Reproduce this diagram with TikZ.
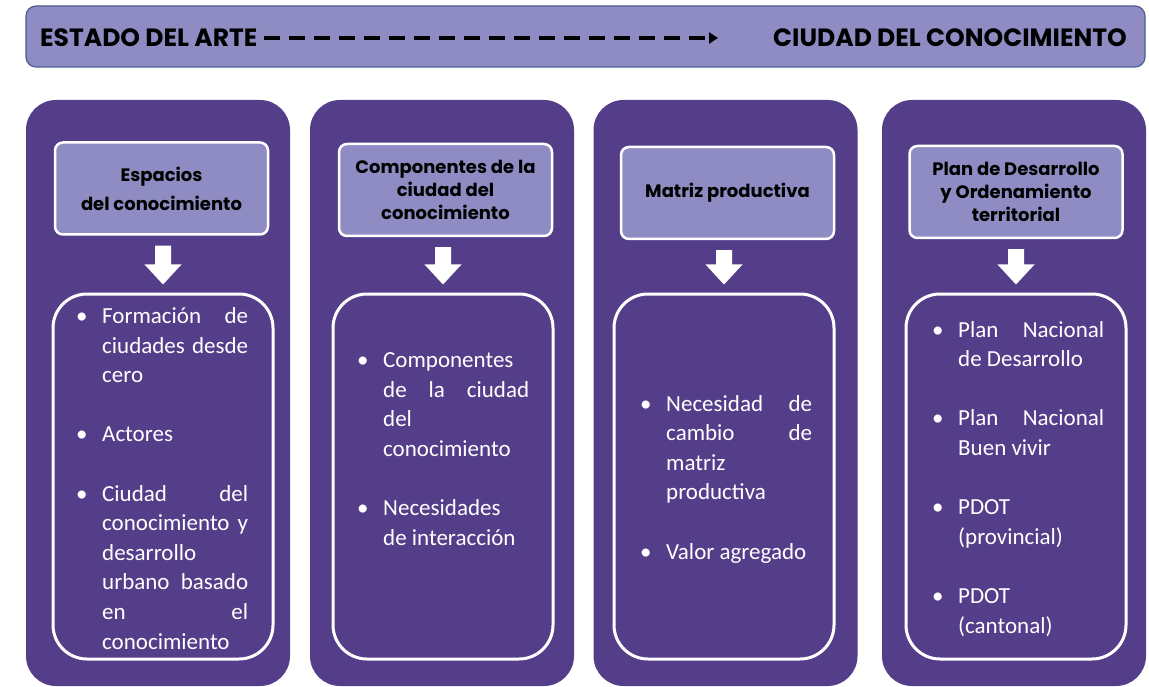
\documentclass[tikz,border=0pt]{standalone}
\usepackage{fontspec}
\setmainfont{Carlito}
\newfontfamily\headfont{Poppins}
\usetikzlibrary{calc,arrows.meta}

\definecolor{lilac}{HTML}{8F8CC3}
\definecolor{plum}{HTML}{543E8A}
\definecolor{rimblue}{HTML}{4A5F8F}

\newcommand\bullbox{\makebox[26pt][l]{•}}
\newcommand\hangbox{\hspace*{26pt}}
\newcommand\fillline[1]{\makebox[146pt][s]{#1}}

\tikzset{
  banner/.style={draw=rimblue, line width=1.2pt, fill=lilac, rounded corners=10pt,
    minimum width=1119pt, minimum height=61pt},
  bannertext/.style={font=\headfont\bfseries\fontsize{25}{28}\selectfont, inner sep=0pt},
  column/.style={fill=plum, rounded corners=30pt, minimum width=264pt, minimum height=586pt},
  titlebox/.style={draw=white, line width=2.5pt, fill=lilac, rounded corners=8pt,
    minimum width=213pt, minimum height=92pt, align=center,
    font=\headfont\bfseries\fontsize{18}{23}\selectfont},
  listbox/.style={draw=white, line width=3pt, rounded corners=34pt,
    minimum width=220pt, minimum height=365pt},
  listtext/.style={text=white, align=left, inner sep=0pt, anchor=base west,
    font=\fontsize{23}{29.6}\selectfont},
}

\begin{document}
\begin{tikzpicture}[x=1pt, y=-1pt]
  \useasboundingbox (0,0) rectangle (1149,687);

  \node[banner] (head) at (585.5,36.5) {};
  \node[bannertext, anchor=west] (from) at (40,38) {ESTADO DEL ARTE};
  \node[bannertext, anchor=east] (to) at (1127,38) {CIUDAD DEL CONOCIMIENTO};
  \coordinate (arrowend) at (718,38);
  \draw[line width=3.5pt, dash pattern=on 16pt off 9pt, -{Triangle[length=9pt, width=11pt]}]
    ($(from.east)+(6,0)$) -- (arrowend);

  \foreach \i/\cx in {1/158, 2/442, 3/725.5, 4/1014}
    \node[column] (col\i) at (\cx,393) {};

  \foreach \i/\cx/\cy/\txt in {1/161.5/188.5/{Espacios\\[6pt]del conocimiento},
      2/445.5/190/{Componentes de la\\ciudad del\\conocimiento},
      3/727.5/193/{Matriz productiva},
      4/1016/192/{Plan de Desarrollo\\y Ordenamiento\\territorial}}
    \node[titlebox] (tit\i) at (\cx,\cy) {\txt};

  \foreach \i/\cx in {1/163, 2/443, 3/724, 4/1016}
    \node[listbox] (box\i) at (\cx,476.5) {};

  \foreach \i in {1,...,4} {
    \coordinate (s\i) at ($(tit\i.south -| box\i.north)+(0,10)$);
    \coordinate (h\i) at ($(box\i.north)+(0,-28)$);
    \coordinate (t\i) at ($(box\i.north)+(0,-8)$);
    \fill[white] ($(s\i)+(-8,0)$) -- ($(s\i)+(8,0)$) -- ($(h\i)+(8,0)$) -- ($(h\i)+(18.5,0)$)
      -- (t\i) -- ($(h\i)+(-18.5,0)$) -- ($(h\i)+(-8,0)$) -- cycle;
  }

  \node[listtext] (list1) at (76,649) {%
    \bullbox\fillline{Formación de}\\
    \hangbox\fillline{ciudades desde}\\
    \hangbox cero\\[29.6pt]
    \bullbox Actores\\[29.6pt]
    \bullbox\fillline{Ciudad del}\\
    \hangbox\fillline{conocimiento y}\\
    \hangbox desarrollo\\
    \hangbox\fillline{urbano basado}\\
    \hangbox\fillline{en el}\\
    \hangbox conocimiento};

  \node[listtext] (list2) at (357,545) {%
    \bullbox Componentes\\
    \hangbox\fillline{de la ciudad}\\
    \hangbox del\\
    \hangbox conocimiento\\[29.6pt]
    \bullbox Necesidades\\
    \hangbox de interacción};

  \node[listtext] (list3) at (640,559) {%
    \bullbox\fillline{Necesidad de}\\
    \hangbox\fillline{cambio de}\\
    \hangbox matriz\\
    \hangbox productiva\\[29.6pt]
    \bullbox Valor agregado};

  \node[listtext] (list4) at (932,633) {%
    \bullbox\fillline{Plan Nacional}\\
    \hangbox de Desarrollo\\[29.6pt]
    \bullbox\fillline{Plan Nacional}\\
    \hangbox Buen vivir\\[29.6pt]
    \bullbox PDOT\\
    \hangbox (provincial)\\[29.6pt]
    \bullbox PDOT\\
    \hangbox (cantonal)};
\end{tikzpicture}
\end{document}
